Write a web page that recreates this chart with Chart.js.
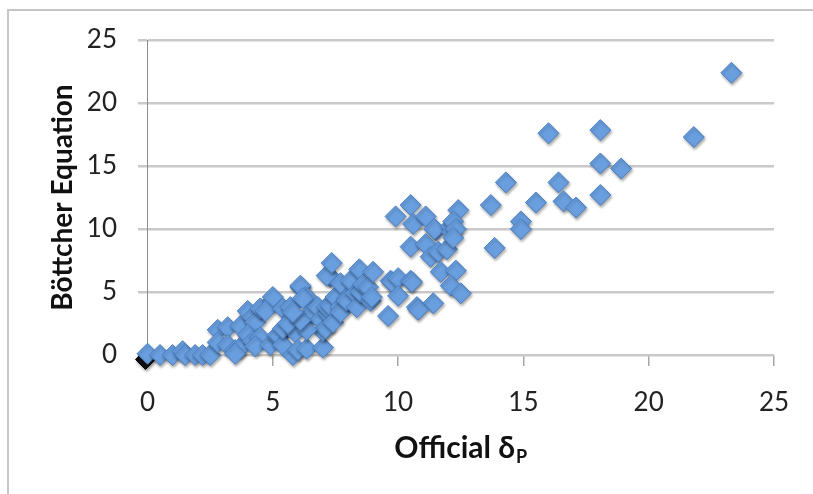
<!DOCTYPE html>
<html>
<head>
<meta charset="utf-8">
<script src="https://cdn.jsdelivr.net/npm/chart.js@4/dist/chart.umd.min.js"></script>
<style>
  html, body { margin: 0; padding: 0; background: #fff; }
  #wrap { position: relative; width: 813px; height: 494px; }
  #frame { position: absolute; left: 7px; top: 9px; right: 0; bottom: 0;
           border-top: 2px solid #c6c6c6; border-left: 2px solid #c6c6c6; pointer-events: none; }
</style>
</head>
<body>
<div id="wrap">
  <canvas id="c" width="813" height="494"></canvas>
  <div id="frame"></div>
</div>
<script>
// Official δP (x) values
const officialDeltaP = [
  0, 0.5, 1.0, 1.4, 1.5, 1.9, 2.2, 2.5,
  2.8, 3.2, 3.7, 2.8, 3.2, 3.5, 3.7, 3.5, 4.0, 4.2, 4.3, 4.5, 5.0, 5.0, 4.7, 5.4, 5.7, 5.8, 5.8,
  4.0, 4.4, 4.2, 4.5, 4.3, 4.9, 5.2, 5.2, 5.4, 5.4, 5.9, 5.6, 5.8, 6.0, 6.35, 7.0,
  6.1, 6.1, 6.3, 6.4, 6.2, 6.5, 6.6, 6.8, 6.9, 7.0, 7.1, 6.35, 6.1, 7.2, 7.15, 7.3, 7.4,
  7.3, 7.15, 7.35, 7.5, 7.7, 7.7, 7.7, 7.95, 7.95, 8.1, 8.3, 8.35, 8.45, 8.5, 8.5, 8.6,
  8.8, 8.9, 8.95, 9.0, 5.8,
  9.6, 9.7, 9.75, 10.0, 10.0, 10.5, 10.55, 10.75, 11.4, 10.8,
  9.9, 10.5, 10.6, 11.1, 11.5, 11.45, 12.4, 12.1, 12.15, 12.2, 12.3,
  10.5, 11.1, 11.3, 11.6, 11.95, 11.7, 12.3, 12.1, 12.5, 12.2,
  13.7, 13.85, 14.3, 14.9, 14.9, 15.5, 16.0, 16.4, 16.6, 17.1, 18.07, 18.07, 18.07, 18.9, 21.8, 23.3
];
// Böttcher Equation (y) values
const bottcherEq = [
  0.1, 0, 0, 0.3, 0, 0, 0, 0,
  2.0, 2.2, 2.3, 1.0, 0.8, 0.4, 0.6, 0.1, 3.5, 3.0, 2.6, 3.7, 4.3, 4.6, 3.5, 3.7, 3.8, 2.9, 3.0,
  1.6, 1.3, 1.1, 1.4, 0.7, 0.8, 1.4, 1.6, 0.8, 2.1, 1.8, 2.5, 0, 0.4, 0.5, 0.6,
  5.4, 5.5, 4.6, 4.5, 4.5, 3.3, 3.3, 3.8, 2.8, 1.9, 2.1, 2.0, 2.75, 3.3, 3.8, 3.9, 2.6,
  6.2, 6.3, 7.3, 4.6, 3.8, 3.4, 5.7, 4.45, 4.3, 5.9, 4.9, 3.8, 6.8, 5.1, 5.0, 5.6,
  5.4, 4.3, 4.6, 6.6, 3.4,
  3.1, 5.9, 5.8, 6.1, 4.7, 5.9, 5.8, 3.8, 4.1, 3.6,
  11.0, 11.9, 10.4, 11.0, 9.9, 10.0, 11.5, 10.2, 9.75, 10.6, 10.0,
  8.6, 8.8, 7.8, 8.2, 8.4, 6.6, 6.7, 5.5, 4.9, 9.3,
  11.9, 8.5, 13.7, 10.6, 10.0, 12.1, 17.6, 13.7, 12.2, 11.7, 17.85, 15.2, 12.7, 14.8, 17.3, 22.4
];
// small dark marker at the origin, mostly hidden behind the first blue point
const originX = [-0.08];
const originY = [-0.35];
const axisTicks = [0, 5, 10, 15, 20, 25];

const pts = officialDeltaP.map((x, i) => ({ x: x, y: bottcherEq[i] }));
const pts2 = originX.map((x, i) => ({ x: x, y: originY[i] }));

const shadowPlugin = {
  id: 'shadow',
  beforeDatasetsDraw(chart) {
    const ctx = chart.ctx;
    ctx.save();
    ctx.shadowColor = 'rgba(0,0,0,0.35)';
    ctx.shadowBlur = 3;
    ctx.shadowOffsetX = 1;
    ctx.shadowOffsetY = 2;
  },
  afterDatasetsDraw(chart) { chart.ctx.restore(); }
};

const xTitlePlugin = {
  id: 'xTitle',
  afterDraw(chart) {
    const ctx = chart.ctx;
    const a = chart.chartArea;
    const main = 'Official δ';
    const sub = 'P';
    ctx.save();
    ctx.fillStyle = '#111';
    ctx.textBaseline = 'alphabetic';
    ctx.textAlign = 'left';
    ctx.font = 'bold 30px Lato, sans-serif';
    const w1 = ctx.measureText(main).width;
    ctx.font = 'bold 18px Lato, sans-serif';
    const w2 = ctx.measureText(sub).width;
    const cx = (a.left + a.right) / 2;
    const x0 = cx - (w1 + w2 + 1) / 2;
    const base = 458;
    ctx.font = 'bold 30px Lato, sans-serif';
    ctx.fillText(main, x0, base);
    ctx.font = 'bold 18px Lato, sans-serif';
    ctx.fillText(sub, x0 + w1 + 1, base + 5);
    ctx.restore();
  }
};

new Chart(document.getElementById('c'), {
  type: 'scatter',
  data: {
    datasets: [
      {
        label: 'Böttcher Equation',
        data: pts,
        pointStyle: 'rectRot',
        pointRadius: 10.5,
        pointHoverRadius: 10.5,
        backgroundColor: '#6a9fdf',
        borderColor: '#4b80c4',
        borderWidth: 1,
        clip: false
      },
      {
        label: 'origin',
        data: pts2,
        pointStyle: 'rectRot',
        pointRadius: 10,
        backgroundColor: '#111',
        borderColor: '#000',
        borderWidth: 1,
        clip: false
      }
    ]
  },
  options: {
    responsive: false,
    animation: false,
    events: [],
    layout: { padding: { top: 40, right: 39, bottom: 0, left: 0 } },
    plugins: {
      legend: { display: false },
      tooltip: { enabled: false }
    },
    scales: {
      x: {
        type: 'linear',
        min: 0, max: 25,
        afterBuildTicks(scale) { scale.ticks = axisTicks.map(v => ({ value: v })); },
        afterFit(scale) { scale.height = 139; },
        border: { display: false },
        grid: { drawOnChartArea: false, drawTicks: true, tickLength: 11, color: '#a6a6a6', lineWidth: 1.5 },
        ticks: { padding: 21, color: '#222', font: { family: 'Lato, sans-serif', size: 26 } }
      },
      y: {
        type: 'linear',
        min: 0, max: 25,
        afterBuildTicks(scale) { scale.ticks = axisTicks.map(v => ({ value: v })); },
        afterFit(scale) { scale.width = 147.5; },
        border: { display: true, color: '#8c8c8c', width: 1 },
        grid: { color: '#c9c9c9', lineWidth: 2.5, drawTicks: true, tickLength: 9.5 },
        ticks: { padding: 21, color: '#222', font: { family: 'Lato, sans-serif', size: 26 } },
        title: {
          display: true,
          text: 'Böttcher Equation',
          color: '#111',
          font: { family: 'Lato, sans-serif', size: 28, weight: 'bold' },
          padding: { top: 46, bottom: 0 }
        }
      }
    }
  },
  plugins: [shadowPlugin, xTitlePlugin]
});
</script>
</body>
</html>
